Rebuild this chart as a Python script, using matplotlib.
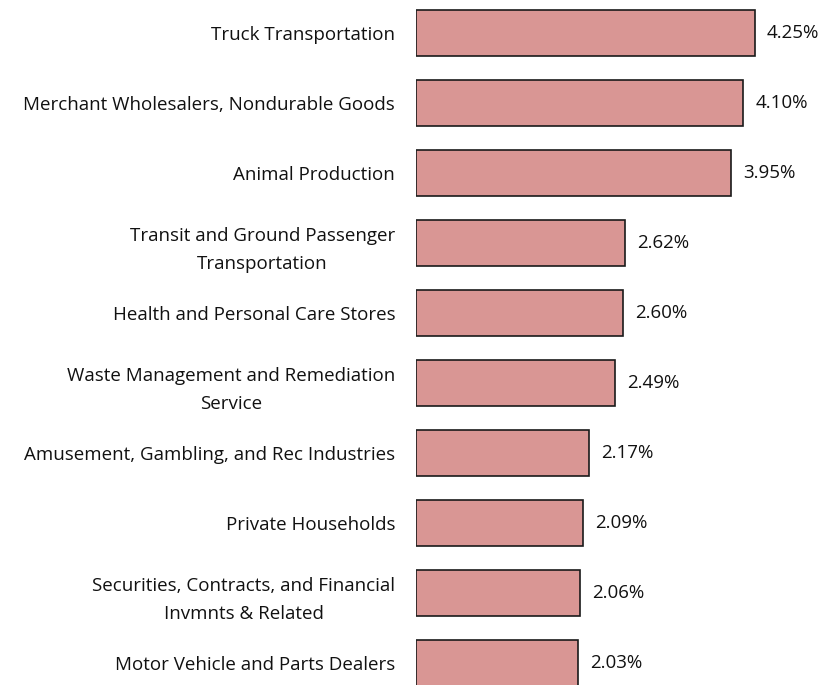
import matplotlib.pyplot as plt

plt.rcParams['font.family'] = ['Open Sans', 'DejaVu Sans']

industries = [
    'Truck Transportation',
    'Merchant Wholesalers, Nondurable Goods',
    'Animal Production',
    'Transit and Ground Passenger\nTransportation',
    'Health and Personal Care Stores',
    'Waste Management and Remediation\nService',
    'Amusement, Gambling, and Rec Industries',
    'Private Households',
    'Securities, Contracts, and Financial\nInvmnts & Related',
    'Motor Vehicle and Parts Dealers',
]
shares = [4.25, 4.10, 3.95, 2.62, 2.60, 2.49, 2.17, 2.09, 2.06, 2.03]

fig = plt.figure(figsize=(8.23, 6.85), dpi=100)
ax = fig.add_axes([416 / 823, 0, 1 - 416 / 823, 1])

pos = list(range(len(industries)))
ax.barh(pos, shares, height=0.66, color='#D99694', edgecolor='#1a1a1a', linewidth=1.2)

for y, v in zip(pos, shares):
    ax.text(v + 0.15, y, f'{v:.2f}%', va='center', ha='left', fontsize=13.5, color='#111111')

ax.set_yticks(pos)
ax.set_yticklabels(industries, fontsize=13.5, color='#111111',
                   multialignment='center', linespacing=1.7)
ax.tick_params(axis='y', length=0, pad=15)
ax.set_xticks([])
ax.set_xlim(0, 407 / 79.8)
ax.set_ylim(9 + 0.314, -0.471)
for s in ax.spines.values():
    s.set_visible(False)

fig.savefig('out.png', dpi=100, facecolor='white')
